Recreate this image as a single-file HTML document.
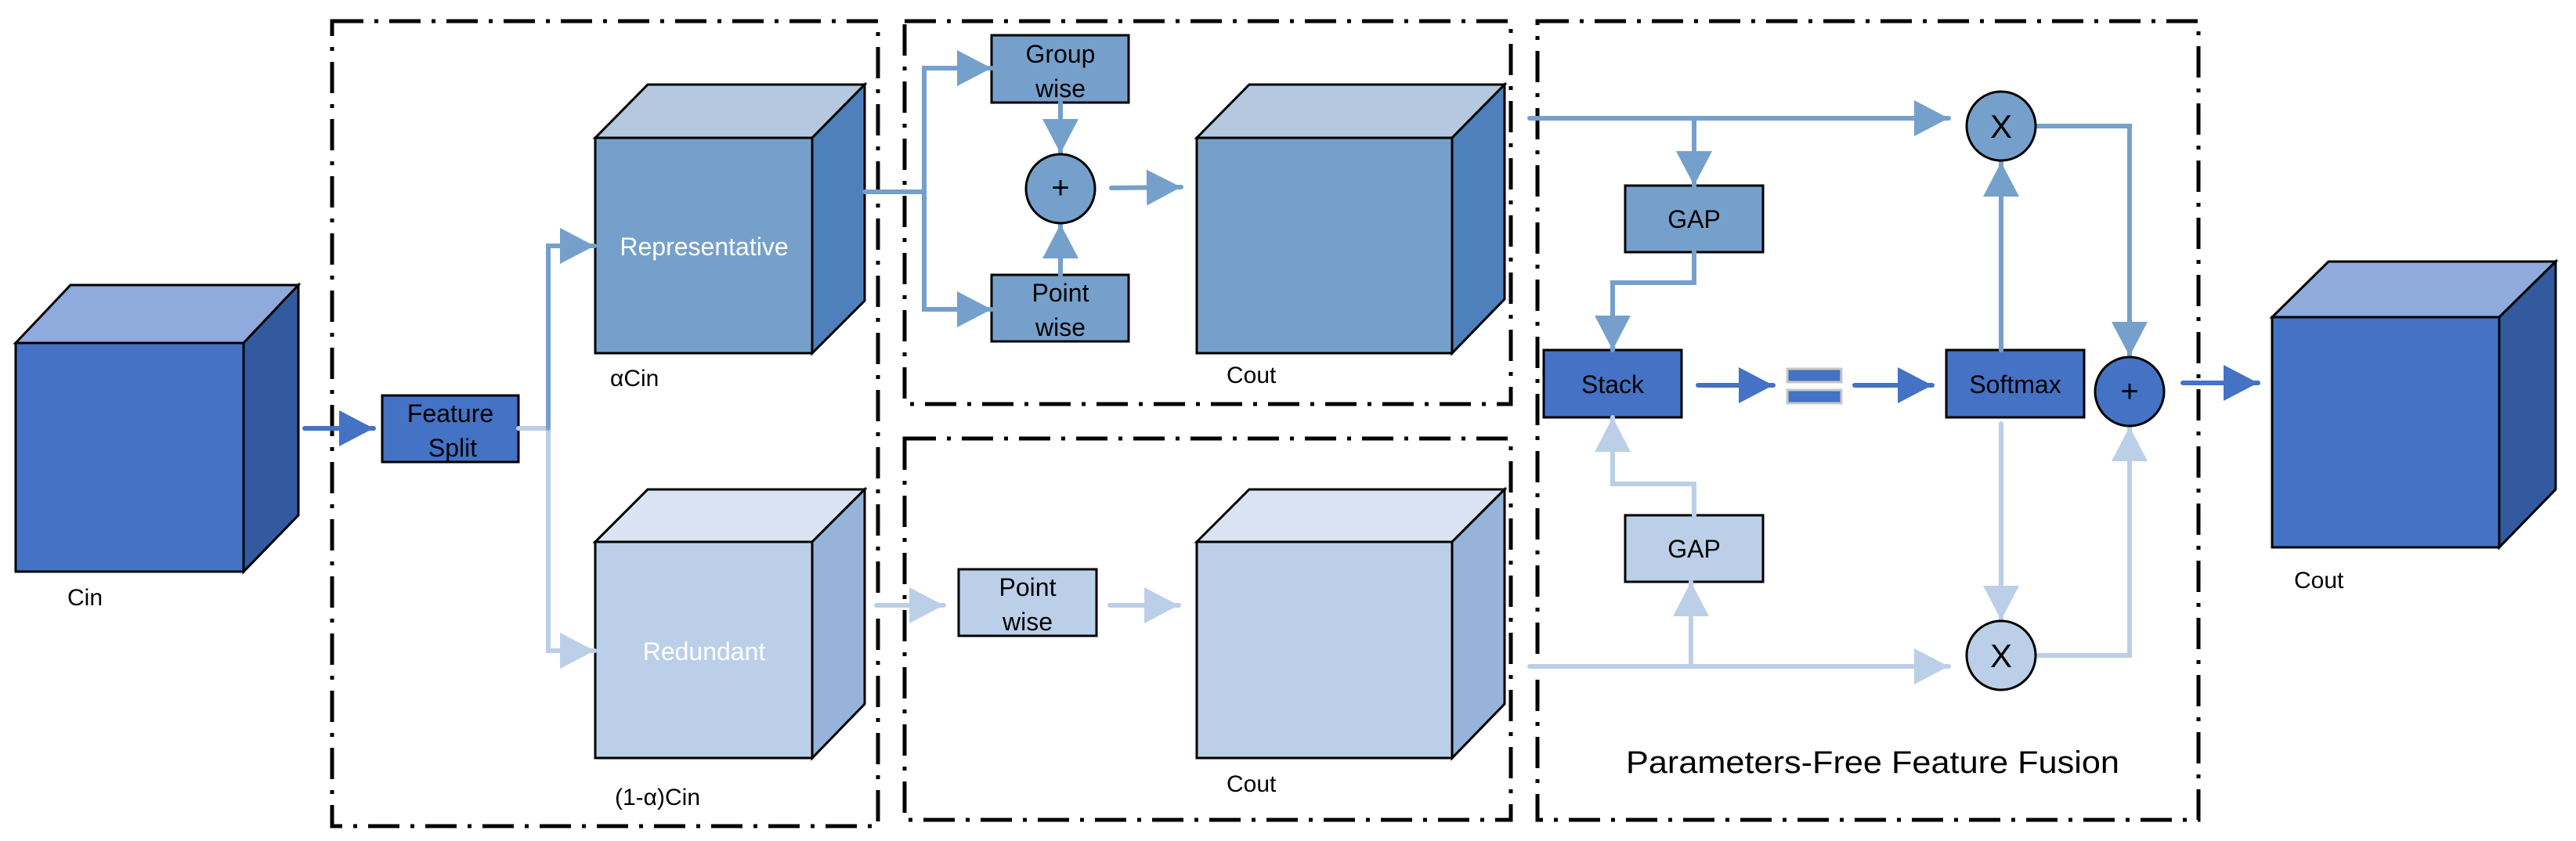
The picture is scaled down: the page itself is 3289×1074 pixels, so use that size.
<!DOCTYPE html>
<html><head><meta charset="utf-8"><style>html,body{margin:0;padding:0;background:#fff}svg{display:block}</style></head>
<body>
<svg xmlns="http://www.w3.org/2000/svg" width="3289" height="1074" viewBox="0 0 3289 1074" font-family="Liberation Sans, sans-serif">
<defs>
<marker id="aM" markerUnits="userSpaceOnUse" markerWidth="46" markerHeight="46" refX="44" refY="23" orient="auto"><path d="M0,0 L44,23 L0,46 Z" fill="#75a0cb"/></marker>
<marker id="aD" markerUnits="userSpaceOnUse" markerWidth="46" markerHeight="46" refX="44" refY="23" orient="auto"><path d="M0,0 L44,23 L0,46 Z" fill="#4472c4"/></marker>
<marker id="aL" markerUnits="userSpaceOnUse" markerWidth="46" markerHeight="46" refX="44" refY="23" orient="auto"><path d="M0,0 L44,23 L0,46 Z" fill="#bbcfe8"/></marker>
</defs>
<g fill="none" stroke="#000" stroke-width="5" stroke-dasharray="40,14,5,14">
<rect x="424" y="27" width="697" height="1028"/>
<rect x="1155" y="27" width="774" height="489"/>
<rect x="1155" y="560" width="774" height="487"/>
<rect x="1963" y="27" width="844" height="1020"/>
</g>
<g stroke="#000" stroke-width="3">
<polygon points="20,438 90,364 381,364 311,438" fill="#8faadc"/>
<polygon points="311,438 381,364 381,658 311,730" fill="#335a9f"/>
<rect x="20" y="438" width="291" height="292" fill="#4472c4"/>
<polygon points="760,176 827,108 1104,108 1037,176" fill="#b4c8e0"/>
<polygon points="1037,176 1104,108 1104,384 1037,451" fill="#4e81bb"/>
<rect x="760" y="176" width="277" height="275" fill="#75a0cb"/>
<polygon points="760,692 827,625 1104,625 1037,692" fill="#dae3f3"/>
<polygon points="1037,692 1104,625 1104,899 1037,968" fill="#97b3da"/>
<rect x="760" y="692" width="277" height="276" fill="#bbcfe8"/>
<polygon points="1528,176 1595,108 1921,108 1854,176" fill="#b4c8e0"/>
<polygon points="1854,176 1921,108 1921,382 1854,451" fill="#4e81bb"/>
<rect x="1528" y="176" width="326" height="275" fill="#75a0cb"/>
<polygon points="1528,692 1595,625 1921,625 1854,692" fill="#dae3f3"/>
<polygon points="1854,692 1921,625 1921,899 1854,968" fill="#97b3da"/>
<rect x="1528" y="692" width="326" height="276" fill="#bbcfe8"/>
<polygon points="2901,405 2973,334 3263,334 3191,405" fill="#8faadc"/>
<polygon points="3191,405 3263,334 3263,625 3191,699" fill="#335a9f"/>
<rect x="2901" y="405" width="290" height="294" fill="#4472c4"/>
<rect x="488" y="505" width="174" height="85" fill="#4472c4"/>
<rect x="1266" y="45" width="175" height="86" fill="#75a0cb"/>
<rect x="1266" y="351" width="175" height="85" fill="#75a0cb"/>
<rect x="1224" y="727" width="176" height="85" fill="#bbcfe8"/>
<rect x="2075" y="237" width="176" height="85" fill="#75a0cb"/>
<rect x="2075" y="658" width="176" height="85" fill="#bbcfe8"/>
<rect x="1971" y="447" width="176" height="86" fill="#4472c4"/>
<rect x="2485" y="447" width="176" height="86" fill="#4472c4"/>
</g>
<g fill="none" stroke-width="6" stroke-linecap="round">
<line x1="389" y1="547" x2="477" y2="547" stroke="#4472c4" marker-end="url(#aD)"/>
<polyline points="662,547 700,547 700,831 759,831" stroke="#bbcfe8" marker-end="url(#aL)"/>
<polyline points="700,547 700,314 759,314" stroke="#75a0cb" marker-end="url(#aM)"/>
<polyline points="1104,245 1180,245 1180,87 1266,87" stroke="#75a0cb" marker-end="url(#aM)"/>
<polyline points="1180,245 1180,395 1266,395" stroke="#75a0cb" marker-end="url(#aM)"/>
<line x1="1354" y1="131" x2="1354" y2="196" stroke="#75a0cb" marker-end="url(#aM)"/>
<line x1="1354" y1="351" x2="1354" y2="286" stroke="#75a0cb" marker-end="url(#aM)"/>
<line x1="1419" y1="240" x2="1508" y2="239" stroke="#75a0cb" marker-end="url(#aM)"/>
<line x1="1119" y1="773" x2="1205" y2="773" stroke="#bbcfe8" marker-end="url(#aL)"/>
<line x1="1417" y1="773" x2="1505" y2="773" stroke="#bbcfe8" marker-end="url(#aL)"/>
<line x1="1953" y1="151" x2="2488" y2="151" stroke="#75a0cb" marker-end="url(#aM)"/>
<line x1="2163" y1="151" x2="2163" y2="237" stroke="#75a0cb" marker-end="url(#aM)"/>
<polyline points="2163,322 2163,361 2059,361 2059,447" stroke="#75a0cb" marker-end="url(#aM)"/>
<line x1="1953" y1="851" x2="2488" y2="851" stroke="#bbcfe8" marker-end="url(#aL)"/>
<line x1="2159" y1="851" x2="2159" y2="743" stroke="#bbcfe8" marker-end="url(#aL)"/>
<polyline points="2163,658 2163,618 2059,618 2059,533" stroke="#bbcfe8" marker-end="url(#aL)"/>
<line x1="2168" y1="492" x2="2264" y2="492" stroke="#4472c4" marker-end="url(#aD)"/>
<line x1="2368" y1="492" x2="2467" y2="492" stroke="#4472c4" marker-end="url(#aD)"/>
<line x1="2555" y1="447" x2="2555" y2="207" stroke="#75a0cb" marker-end="url(#aM)"/>
<line x1="2555" y1="541" x2="2555" y2="792" stroke="#bbcfe8" marker-end="url(#aL)"/>
<polyline points="2599,161 2719,161 2719,455" stroke="#75a0cb" marker-end="url(#aM)"/>
<polyline points="2599,837 2719,837 2719,545" stroke="#bbcfe8" marker-end="url(#aL)"/>
<line x1="2787" y1="489" x2="2883" y2="489" stroke="#4472c4" marker-end="url(#aD)"/>
</g>
<rect x="2282" y="471" width="69" height="17" fill="#4472c4" stroke="#c8c8c8" stroke-width="3"/>
<rect x="2282" y="498" width="69" height="17" fill="#4472c4" stroke="#c8c8c8" stroke-width="3"/>
<g stroke="#000" stroke-width="3">
<circle cx="1354" cy="241" r="44" fill="#75a0cb"/>
<circle cx="2555" cy="161" r="44" fill="#75a0cb"/>
<circle cx="2555" cy="837" r="44" fill="#bbcfe8"/>
<circle cx="2719" cy="500" r="44" fill="#4472c4"/>
</g>
<g font-size="32" fill="#000" text-anchor="middle">
<text x="1354" y="253" font-size="40">+</text>
<text x="2719" y="513" font-size="40">+</text>
<text x="2555" y="176" font-size="42">X</text>
<text x="2555" y="852" font-size="42">X</text>
<text x="575" y="539">Feature</text>
<text x="578" y="583">Split</text>
<text x="1354" y="80">Group</text>
<text x="1354" y="124">wise</text>
<text x="1354" y="385">Point</text>
<text x="1354" y="429">wise</text>
<text x="1312" y="761">Point</text>
<text x="1312" y="805">wise</text>
<text x="2163" y="291">GAP</text>
<text x="2163" y="712">GAP</text>
<text x="2059" y="502">Stack</text>
<text x="2573" y="502">Softmax</text>
<text x="899" y="326" fill="#fff">Representative</text>
<text x="899" y="843" fill="#fff">Redundant</text>
</g>
<g font-size="30" fill="#000">
<text x="86" y="773">Cin</text>
<text x="779" y="493">αCin</text>
<text x="785" y="1028">(1-α)Cin</text>
<text x="1566" y="489">Cout</text>
<text x="1566" y="1011">Cout</text>
<text x="2929" y="751">Cout</text>
<text x="2076" y="987" font-size="40" textLength="630" lengthAdjust="spacingAndGlyphs">Parameters-Free Feature Fusion</text>
</g>
</svg>
</body></html>
